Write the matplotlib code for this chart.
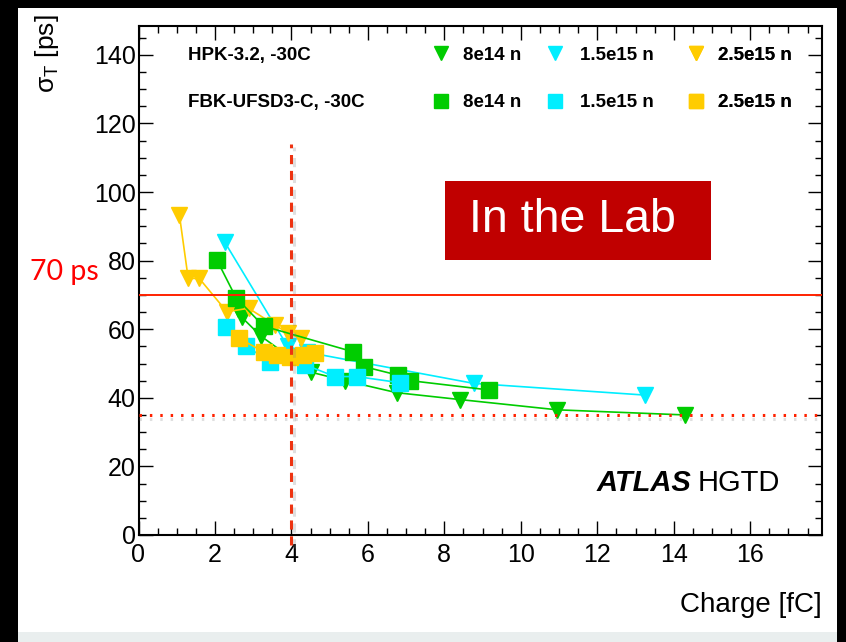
import matplotlib
matplotlib.use("Agg")
import matplotlib.pyplot as plt
from matplotlib.lines import Line2D
from matplotlib.patches import Rectangle
import matplotlib.patheffects as pe

plt.rcParams['font.family'] = ['Liberation Sans', 'DejaVu Sans']
plt.rcParams['mathtext.fontset'] = 'custom'
plt.rcParams['mathtext.rm'] = 'Liberation Sans'
plt.rcParams['mathtext.it'] = 'Liberation Sans:italic'

# HPK-3.2 (triangles)
hpk_8e14_x = [2.6, 2.7, 3.2, 4.5, 5.4, 6.75, 8.4, 10.95, 14.3]
hpk_8e14_y = [66.0, 63.5, 58.0, 47.5, 45.0, 41.5, 39.5, 36.5, 35.0]
hpk_15e15_x = [2.25, 3.9, 4.4, 8.77, 13.24]
hpk_15e15_y = [85.5, 55.0, 53.3, 44.2, 40.8]
hpk_25e15_x = [1.07, 1.3, 1.59, 2.31, 2.88, 3.57, 3.92, 4.25]
hpk_25e15_y = [93.3, 74.8, 74.8, 65.1, 66.1, 61.2, 58.8, 57.3]

# FBK-UFSD3-C (squares)
fbk_8e14_x = [2.05, 2.55, 3.27, 5.62, 5.89, 6.79, 7.11, 9.16]
fbk_8e14_y = [80.2, 69.2, 60.9, 53.4, 49.1, 46.6, 45.0, 42.3]
fbk_15e15_x = [2.29, 2.81, 3.44, 4.36, 5.14, 5.71, 6.83]
fbk_15e15_y = [60.6, 55.1, 50.5, 49.6, 46.2, 46.2, 44.4]
fbk_25e15_x = [2.64, 3.27, 3.62, 3.97, 4.31, 4.62]
fbk_25e15_y = [57.3, 53.4, 52.5, 52.0, 52.5, 53.0]

fluence_labels = ["8e14 n", "1.5e15 n", "2.5e15 n"]
colors = ["#00cc00", "#00eeff", "#ffcc00"]

target_res = 70
floor_res = 35
charge_cut = 4

fig = plt.figure(figsize=(8.46, 6.42), dpi=100, facecolor="black")
# white panel + pale strip at the bottom
fig.patches.append(Rectangle((18/846, 10/642), 819/846, 624/642, transform=fig.transFigure,
                             facecolor="white", edgecolor="none", zorder=-10))
fig.patches.append(Rectangle((18/846, 0), 819/846, 10/642, transform=fig.transFigure,
                             facecolor="#e9eeee", edgecolor="none", zorder=-10))

ax = fig.add_axes([138.5/846, 1 - 535/642, 683.2/846, 509/642])
ax.set_facecolor("white")

hpk = [(hpk_8e14_x, hpk_8e14_y), (hpk_15e15_x, hpk_15e15_y), (hpk_25e15_x, hpk_25e15_y)]
fbk = [(fbk_8e14_x, fbk_8e14_y), (fbk_15e15_x, fbk_15e15_y), (fbk_25e15_x, fbk_25e15_y)]

for (x, y), c in zip(hpk, colors):
    ax.plot(x, y, color=c, lw=1.2, marker="v", ms=12, mec=c, mfc=c, zorder=3)
for (x, y), c in zip(fbk, colors):
    ax.plot(x, y, color=c, lw=1.2, marker="s", ms=12, mec=c, mfc=c, zorder=4)

# reference lines
ax.axhline(target_res, color="#ff2200", lw=1.4, zorder=5)
ax.axhline(floor_res, color="#ff2200", lw=2.2, ls=(0, (0.8, 2.6)), zorder=5,
           path_effects=[pe.SimpleLineShadow(offset=(0, -3), shadow_color="gray", alpha=0.25),
                         pe.Normal()])
ax.plot([charge_cut, charge_cut], [-3, 114], color="#ee3311", lw=2.2, ls=(0, (3, 2.2)),
        clip_on=False, zorder=6,
        path_effects=[pe.SimpleLineShadow(offset=(2, -2), shadow_color="gray", alpha=0.25),
                      pe.Normal()])

ax.set_xlim(0, 17.87)
ax.set_ylim(0, 148.4)
ax.set_xticks(range(0, 17, 2))
ax.set_xticks([i * 0.5 for i in range(36)], minor=True)
ax.set_yticks(range(0, 141, 20))
ax.set_yticks(range(0, 149, 5), minor=True)
ax.tick_params(which="both", direction="in", top=True, right=True, width=1.0, labelsize=18)
ax.tick_params(which="major", length=10)
ax.tick_params(which="minor", length=5)
ax.tick_params(axis="x", pad=6)
ax.tick_params(axis="y", pad=2)
for s in ax.spines.values():
    s.set_linewidth(1.5)

# axis titles
fig.text(47/846, 1 - 14/642, r"$\mathrm{\sigma_{T}}$ [ps]", rotation=90, ha="center", va="top",
         fontsize=19)
fig.text(822/846, 1 - 605/642, "Charge [fC]", ha="right", va="center", fontsize=20)
fig.text(30/846, 1 - 272/642, "70 ps", color="#ff0000", ha="left", va="center",
         fontsize=20.5, family=["Lato", "DejaVu Sans"])

# legend block
leg_fs = 13.5
ax.text(0.073, 0.943, "HPK-3.2, -30C", transform=ax.transAxes, fontsize=leg_fs,
        fontweight="bold", va="center")
ax.text(0.073, 0.849, "FBK-UFSD3-C, -30C", transform=ax.transAxes, fontsize=leg_fs,
        fontweight="bold", va="center")
col_x = [0.429, 0.5966, 0.8023]
col_pad = [0.67, 0.8, 0.67]
for i, (c, lab) in enumerate(zip(colors, fluence_labels)):
    h = [Line2D([], [], ls="none", marker="v", ms=10, color=c),
         Line2D([], [], ls="none", marker="s", ms=10, color=c)]
    leg = ax.legend(h, [lab, lab], loc="center left", bbox_to_anchor=(col_x[i], 0.896),
                    frameon=False, handlelength=1.0, handletextpad=col_pad[i], borderpad=0,
                    borderaxespad=0, labelspacing=1.62,
                    prop={"weight": "bold", "size": leg_fs})
    ax.add_artist(leg)

# "In the Lab" box
ax.add_patch(Rectangle((0.4486, 0.540), 0.3893, 0.155, transform=ax.transAxes,
                       facecolor="#c00000", edgecolor="none", zorder=7))
ax.text(0.635, 0.618, "In the Lab", transform=ax.transAxes, color="white", fontsize=33.5,
        ha="center", va="center", zorder=8)

ax.text(0.6707, 0.1026, "ATLAS", transform=ax.transAxes, fontsize=21, fontweight="bold",
        fontstyle="italic", va="center")
ax.text(0.819, 0.1026, "HGTD", transform=ax.transAxes, fontsize=21, va="center")

fig.savefig("out.png", dpi=100, facecolor=fig.get_facecolor())
